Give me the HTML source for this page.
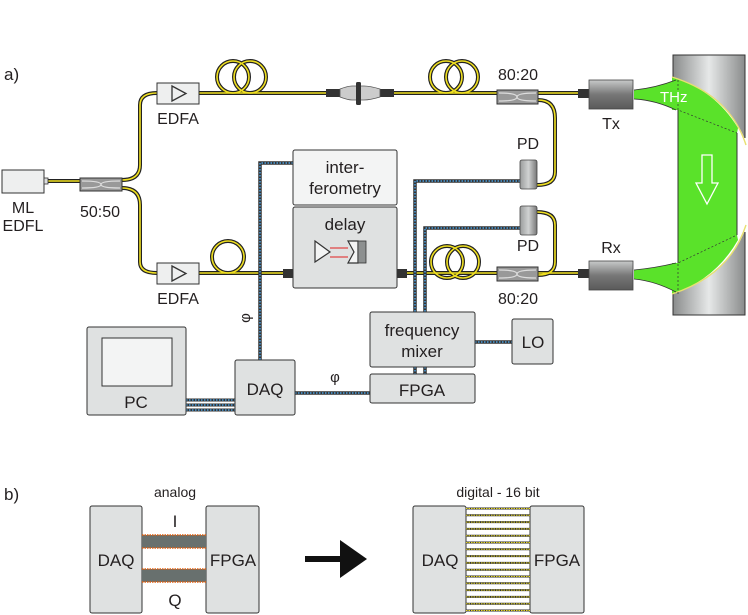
<!DOCTYPE html>
<html><head><style>html,body{margin:0;padding:0;background:#fff;}svg{display:block;}text{font-family:"Liberation Sans",sans-serif;fill:#231f20;}</style></head>
<body>
<svg width="748" height="615" viewBox="0 0 748 615" xmlns="http://www.w3.org/2000/svg">
<defs>
<linearGradient id="pipe" x1="0" x2="1"><stop offset="0" stop-color="#8a8c8c"/><stop offset="0.5" stop-color="#e6e8e8"/><stop offset="1" stop-color="#8a8c8c"/></linearGradient>
<linearGradient id="dev" x1="0" y1="0" x2="0" y2="1"><stop offset="0" stop-color="#c8caca"/><stop offset="0.5" stop-color="#777"/><stop offset="1" stop-color="#5a5a5a"/></linearGradient>
<linearGradient id="pd" x1="0" x2="1"><stop offset="0" stop-color="#9a9c9c"/><stop offset="0.5" stop-color="#d0d2d2"/><stop offset="1" stop-color="#777"/></linearGradient>
</defs>
<g font-size="17">
<text x="4" y="80">a)</text>
<text x="4" y="500">b)</text>
</g>
<g fill="none" stroke-linecap="round">
<g stroke="#222" stroke-width="4">
<path d="M45,181 H80 M122,180 Q140,180 140,165 V105 Q140,93 157,93 M122,188 Q140,188 140,205 V262 Q140,273 157,273 M199,93 H578 M199,273 H293 M397,273 H578 M538,100 Q555,100 555,118 V172 Q555,185 537,185 M538,275 Q555,275 555,262 V225 Q555,212 537,212"/>
<circle cx="233" cy="77" r="16"/><circle cx="250" cy="77" r="16"/>
<circle cx="446" cy="77" r="16"/><circle cx="462" cy="77" r="16"/>
<circle cx="228" cy="257" r="16"/>
<circle cx="447" cy="262" r="16"/><circle cx="463" cy="262" r="16"/>
</g>
<g stroke="#f0e020" stroke-width="1.6">
<path d="M45,181 H80 M122,180 Q140,180 140,165 V105 Q140,93 157,93 M122,188 Q140,188 140,205 V262 Q140,273 157,273 M199,93 H578 M199,273 H293 M397,273 H578 M538,100 Q555,100 555,118 V172 Q555,185 537,185 M538,275 Q555,275 555,262 V225 Q555,212 537,212"/>
<circle cx="233" cy="77" r="16"/><circle cx="250" cy="77" r="16"/>
<circle cx="446" cy="77" r="16"/><circle cx="462" cy="77" r="16"/>
<circle cx="228" cy="257" r="16"/>
<circle cx="447" cy="262" r="16"/><circle cx="463" cy="262" r="16"/>
</g>
</g>
<g fill="none" stroke-width="3.5">
<g stroke="#333"><path d="M293,163 H260 V360 M520,181 H415 V374 M520,228 H425 V374 M475,342 H512 M295,393 H370"/><path d="M186,400 H235 M186,405 H235 M186,410 H235" stroke-width="3"/></g>
<g stroke="#4aa0e0" stroke-width="1.5" stroke-dasharray="1.5 1.5"><path d="M293,163 H260 V360 M520,181 H415 V374 M520,228 H425 V374 M475,342 H512 M295,393 H370 M186,400 H235 M186,405 H235 M186,410 H235"/></g>
</g>
<rect x="2" y="170" width="42" height="23" fill="#eeefef" stroke="#333" stroke-width="1"/>
<rect x="44" y="178" width="4" height="6" fill="#ddd" stroke="#333" stroke-width="0.8"/>
<g font-size="16" text-anchor="middle"><text x="23" y="213">ML</text><text x="23" y="231">EDFL</text><text x="100" y="217">50:50</text>
<text x="178" y="124">EDFA</text><text x="178" y="304">EDFA</text>
<text x="518" y="80">80:20</text><text x="518" y="304">80:20</text>
<text x="528" y="149">PD</text><text x="528" y="251">PD</text>
<text x="611" y="129">Tx</text><text x="611" y="253">Rx</text></g>
<g stroke="#333" stroke-width="1">
<rect x="80" y="178" width="42" height="13" fill="#999"/>
<rect x="497" y="90" width="41" height="14" fill="#999"/>
<rect x="497" y="267" width="41" height="14" fill="#999"/>
</g>
<g stroke="#ddd" stroke-width="1.3" fill="none">
<path d="M82,181 Q101,181 101,184.5 Q101,188 120,188 M82,188 Q101,188 101,184.5 Q101,181 120,181"/>
<path d="M499,93 Q517,93 517,97 Q517,101 536,101 M499,101 Q517,101 517,97 Q517,93 536,93"/>
<path d="M499,270 Q517,270 517,274 Q517,278 536,278 M499,278 Q517,278 517,274 Q517,270 536,270"/>
</g>
<g stroke="#333" stroke-width="1" fill="#eeefef">
<rect x="157" y="83" width="42" height="21"/>
<rect x="157" y="263" width="42" height="21"/>
<path d="M172,86 L186,93.5 L172,101 Z" fill="none" stroke-width="1.3"/>
<path d="M172,266 L186,273.5 L172,281 Z" fill="none" stroke-width="1.3"/>
</g>
<rect x="326" y="89" width="14" height="8" fill="#333"/>
<rect x="380" y="89" width="14" height="8" fill="#333"/>
<path d="M340,89 Q348,86 352,86 H364 Q370,86 380,89 V97 Q370,100 364,100 H352 Q348,100 340,97 Z" fill="#ccc" stroke="#555" stroke-width="0.8"/>
<rect x="356" y="82" width="5" height="23" rx="1.5" fill="#333"/>
<g fill="#333"><rect x="578" y="89" width="12" height="9"/><rect x="578" y="269" width="12" height="9"/><rect x="283" y="269" width="10" height="9"/><rect x="397" y="269" width="10" height="9"/></g>
<rect x="520" y="160" width="17" height="29" rx="2" fill="url(#pd)" stroke="#444" stroke-width="0.8"/>
<rect x="520" y="206" width="17" height="29" rx="2" fill="url(#pd)" stroke="#444" stroke-width="0.8"/>
<!-- pipe -->
<rect x="673" y="55" width="72" height="260" fill="url(#pipe)" stroke="#333" stroke-width="1"/>
<path d="M671,77 Q730,95 747,145 V225 Q730,275 671,294 Z" fill="#fff"/>
<rect x="738" y="138" width="10" height="94" fill="#fff"/>
<path d="M672,77 Q715,90 738,128 L737,133 V235 L738,240 Q715,280 672,294 V263 L678,263 V110 L672,110 Z" fill="#5ae22a"/>
<path d="M672,77 Q730,95 746,145 M746,225 Q730,275 672,294" fill="none" stroke="#e8e070" stroke-width="1.4"/>
<path d="M678,110 V263 M737,133 V235" fill="none" stroke="#333" stroke-width="1"/>
<path d="M678,80 V110 L737,133 M678,294 V263 L737,235" fill="none" stroke="#333" stroke-width="0.7" stroke-dasharray="2 2"/>
<path d="M634,90 Q655,88 676,80 V110 Q655,100 634,99 Z" fill="#5ae22a"/>
<path d="M634,270 Q655,268 676,263 V292 Q655,281 634,279 Z" fill="#5ae22a"/>
<path d="M634,90 Q655,88 676,80 M634,99 Q655,100 676,110 M634,270 Q655,268 676,263 M634,279 Q655,281 676,292" fill="none" stroke="#333" stroke-width="0.8"/>
<text x="660" y="102" font-size="15" style="fill:#fff">THz</text>
<path d="M702,155 H712 V183 H718 L707,204 L696,183 H702 Z" fill="none" stroke="#fff" stroke-width="1.3"/>
<rect x="589" y="80" width="44" height="29" fill="url(#dev)" stroke="#444" stroke-width="0.8"/>
<rect x="589" y="261" width="44" height="29" fill="url(#dev)" stroke="#444" stroke-width="0.8"/>
<rect x="293" y="150" width="104" height="55" rx="2" fill="#f3f4f4" stroke="#333" stroke-width="1"/>
<rect x="293" y="207" width="104" height="81" rx="2" fill="#dfe1e1" stroke="#333" stroke-width="1"/>
<g font-size="17" text-anchor="middle"><text x="345" y="173">inter-</text><text x="345" y="194">ferometry</text><text x="345" y="230">delay</text></g>
<path d="M315,241 L330,252 L315,262 Z" fill="#f3f4f4" stroke="#333" stroke-width="1.2"/>
<path d="M330,248 H348 M330,257 H348" stroke="#e02020" stroke-width="0.9"/>
<path d="M348,241 H358 V263 H348 L354,252 Z" fill="#f3f4f4" stroke="#333" stroke-width="1.2"/>
<rect x="358" y="241" width="8" height="22" fill="#8d9090" stroke="#333" stroke-width="0.8"/>
<g stroke="#333" stroke-width="1" fill="#dfe1e1">
<rect x="87" y="327" width="99" height="88" rx="2"/>
<rect x="102" y="338" width="70" height="48" fill="#f3f4f4"/>
<rect x="235" y="360" width="60" height="55" rx="2"/>
<rect x="370" y="312" width="105" height="55" rx="2"/>
<rect x="370" y="374" width="105" height="29" rx="2"/>
<rect x="512" y="319" width="41" height="45" rx="2"/>
</g>
<g font-size="17" text-anchor="middle"><text x="136" y="408">PC</text><text x="265" y="395">DAQ</text>
<text x="422" y="336">frequency</text><text x="422" y="357">mixer</text><text x="422" y="396">FPGA</text><text x="533" y="348">LO</text>
<text x="335" y="382" font-size="15">φ</text></g>
<text x="0" y="0" font-size="15" transform="translate(250,318) rotate(-90)" text-anchor="middle">φ</text>
<g stroke="#333" stroke-width="1" fill="#dfe1e1">
<rect x="90" y="506" width="52" height="107" rx="2"/>
<rect x="206" y="506" width="53" height="107" rx="2"/>
<rect x="413" y="506" width="53" height="107" rx="2"/>
<rect x="530" y="506" width="54" height="107" rx="2"/>
</g>
<g fill="#68706e"><rect x="142" y="535" width="64" height="13"/><rect x="142" y="569" width="64" height="13"/></g>
<g stroke="#e06010" stroke-width="1.5" stroke-dasharray="1.5 1"><path d="M142,535 H206 M142,548 H206 M142,569 H206 M142,582 H206"/></g>
<g font-size="17" text-anchor="middle"><text x="116" y="566">DAQ</text><text x="233" y="566">FPGA</text><text x="440" y="566">DAQ</text><text x="557" y="566">FPGA</text>
<text x="175" y="527">I</text><text x="175" y="606">Q</text></g>
<g font-size="14" text-anchor="middle"><text x="175" y="497">analog</text><text x="498" y="497">digital - 16 bit</text></g>
<rect x="305" y="556" width="37" height="6" fill="#111"/>
<path d="M340,540 L367,559 L340,578 Z" fill="#111"/>
<g stroke="#333" stroke-width="2">
<path d="M466,508.5H530M466,515.3H530M466,522.1H530M466,528.9H530M466,535.7H530M466,542.5H530M466,549.3H530M466,556.1H530M466,562.9H530M466,569.7H530M466,576.5H530M466,583.3H530M466,590.1H530M466,596.9H530M466,603.7H530M466,610.5H530"/>
</g>
<g stroke="#e8d820" stroke-width="1" stroke-dasharray="1.5 1">
<path d="M466,508.5H530M466,515.3H530M466,522.1H530M466,528.9H530M466,535.7H530M466,542.5H530M466,549.3H530M466,556.1H530M466,562.9H530M466,569.7H530M466,576.5H530M466,583.3H530M466,590.1H530M466,596.9H530M466,603.7H530M466,610.5H530"/>
</g>
</svg>
</body></html>
